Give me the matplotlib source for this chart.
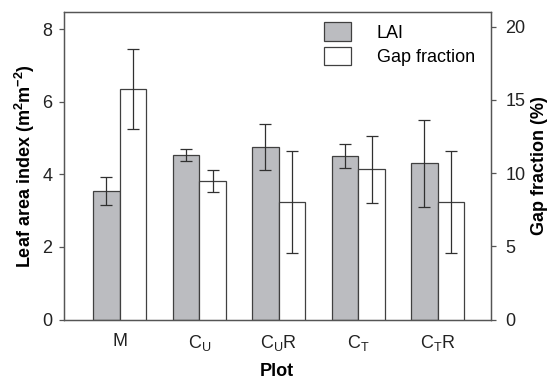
import numpy as np
import matplotlib
matplotlib.use('Agg')
import matplotlib.pyplot as plt
from matplotlib.patches import Patch

plt.rcParams['font.family'] = ['Liberation Sans', 'DejaVu Sans']
plt.rcParams['mathtext.fontset'] = 'custom'
plt.rcParams['mathtext.rm'] = 'Liberation Sans'
plt.rcParams['mathtext.bf'] = 'Liberation Sans:bold'

plots = ['M', r'$\mathregular{C_U}$', r'$\mathregular{C_UR}$', r'$\mathregular{C_T}$', r'$\mathregular{C_TR}$']
lai = [3.54, 4.54, 4.75, 4.52, 4.31]
lai_err = [0.38, 0.17, 0.63, 0.33, 1.20]
gap = [15.72, 9.46, 8.03, 10.26, 8.03]
gap_err = [2.74, 0.74, 3.50, 2.28, 3.50]

edge = '#404040'
grey = '#bbbcc0'

fig = plt.figure(figsize=(5.5, 3.81), dpi=100)
ax = fig.add_axes([0.1164, 0.1614, 0.892 - 0.1164, 0.9685 - 0.1614])
ax2 = ax.twinx()

x = np.arange(len(plots))
w = 0.335
ekw = dict(ecolor='#303030', elinewidth=0.9, capsize=4, capthick=0.9)
ax.bar(x - w / 2, lai, w, yerr=lai_err, color=grey, edgecolor=edge, linewidth=0.9, error_kw=ekw, zorder=2)
ax2.bar(x + w / 2, gap, w, yerr=gap_err, color='white', edgecolor=edge, linewidth=0.9, error_kw=ekw, zorder=2)

ax.set_xlim(-0.70, 4.665)
ax.set_ylim(0, 8.48)
ax2.set_ylim(0, 21)
ax.set_yticks([0, 2, 4, 6, 8])
ax2.set_yticks([0, 5, 10, 15, 20])
ax.set_xticks(x)
ax.set_xticklabels(plots)

for a in (ax, ax2):
    for s in a.spines.values():
        s.set_color('#555555')
        s.set_linewidth(0.9)
ax.tick_params(axis='x', length=0, pad=10, labelsize=13, colors='#222222')
ax.tick_params(axis='y', length=3.5, width=0.9, color='#555555', labelsize=13, labelcolor='#222222', pad=5)
ax2.tick_params(axis='y', length=3.5, width=0.9, color='#555555', labelsize=13, labelcolor='#222222', pad=7)

ax.set_ylabel(r'Leaf area index (m$\mathregular{^2}$m$\mathregular{^{-2}}$)', fontsize=13, fontweight='bold', labelpad=4)
ax2.set_ylabel('Gap fraction (%)', fontsize=13, fontweight='bold', labelpad=4)
ax.set_xlabel('Plot', fontsize=13, fontweight='bold', labelpad=7)

handles = [Patch(facecolor=grey, edgecolor=edge, linewidth=0.9),
           Patch(facecolor='white', edgecolor=edge, linewidth=0.9)]
ax2.legend(handles, ['LAI', 'Gap fraction'], loc='upper right', frameon=False, fontsize=13,
           handlelength=1.45, handleheight=1.17, handletextpad=1.45, labelspacing=0.3,
           borderaxespad=0.3, bbox_to_anchor=(0.993, 1.007))

fig.savefig('out.png', dpi=100)
